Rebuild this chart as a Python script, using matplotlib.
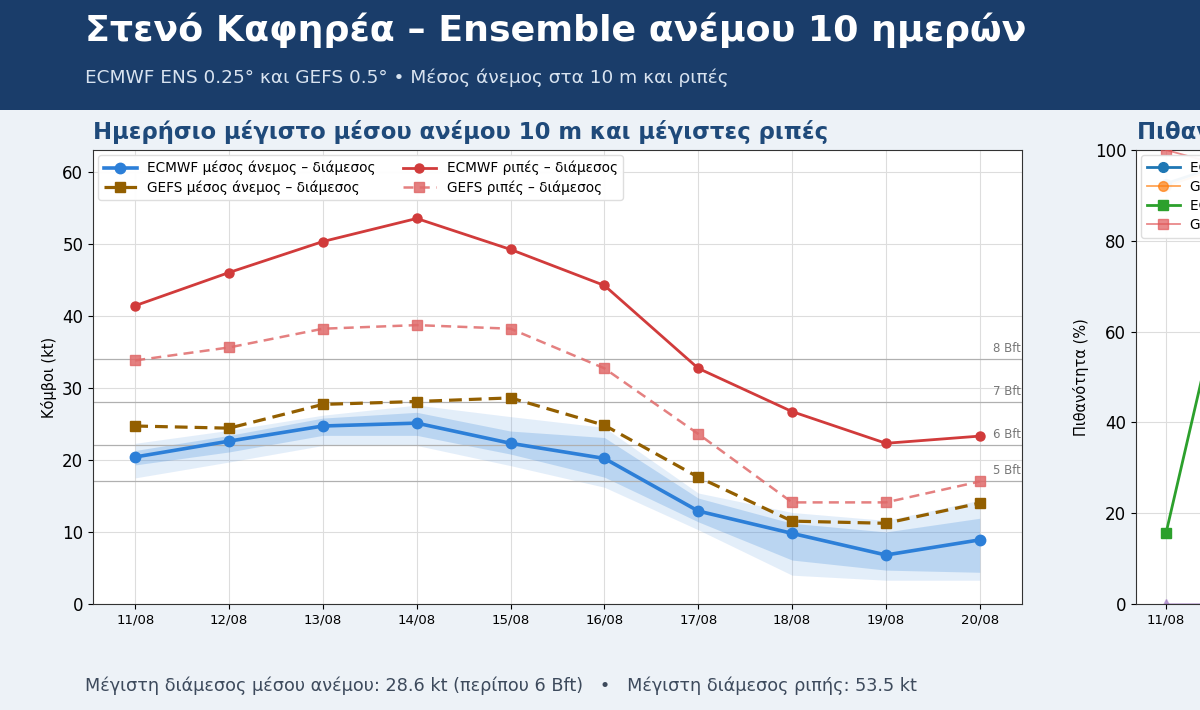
import matplotlib
matplotlib.use("Agg")
import matplotlib.pyplot as plt
from matplotlib.patches import Rectangle
import numpy as np

plt.rcParams['font.family'] = ['DejaVu Sans']

# ---- data ----
dates = ['11/08', '12/08', '13/08', '14/08', '15/08', '16/08', '17/08', '18/08', '19/08', '20/08']

ecmwf_mean = [20.4, 22.6, 24.7, 25.1, 22.3, 20.2, 12.9, 9.8, 6.8, 8.9]
ecmwf_p25 = [19.3, 21.1, 23.4, 23.4, 20.8, 17.6, 11.4, 6.1, 4.7, 4.4]
ecmwf_p75 = [21.3, 23.4, 25.8, 26.6, 24.0, 23.1, 14.7, 11.2, 10.0, 11.9]
ecmwf_p10 = [17.5, 19.7, 22.0, 22.0, 19.2, 16.2, 10.3, 4.0, 3.3, 3.3]
ecmwf_p90 = [22.3, 24.1, 26.2, 27.6, 26.0, 24.5, 15.4, 12.7, 11.6, 14.4]
gefs_mean = [24.7, 24.4, 27.7, 28.1, 28.6, 24.8, 17.6, 11.5, 11.2, 14.0]
ecmwf_gust = [41.4, 46.0, 50.3, 53.5, 49.2, 44.2, 32.7, 26.7, 22.3, 23.3]
gefs_gust = [33.8, 35.6, 38.2, 38.7, 38.2, 32.7, 23.6, 14.1, 14.1, 17.0]

bft_kt = [17, 22, 28, 34]
bft_labels = ['5 Bft', '6 Bft', '7 Bft', '8 Bft']

# right panel (only the first days are visible)
prob_dates = ['11/08', '12/08']
prob_ecmwf_a = [92.6, 97.5]
prob_gefs_a = [92.0, 97.0]
prob_ecmwf_b = [15.6, 79.0]
prob_gefs_b = [100.0, 96.0]
prob_other = [0.0, 0.0]

max_mean = 28.6
max_gust = 53.5

# ---- page ----
W, H = 1200, 710
BG = '#edf2f7'
NAVY = '#1a3d6a'
TITLE_BLUE = '#1f4a7a'

fig = plt.figure(figsize=(W / 100, H / 100), dpi=100, facecolor=BG)

def fx(px):
	return px / W

def fy(py):
	return 1 - py / H

fig.add_artist(Rectangle((0, fy(110)), 1, 110 / H, transform=fig.transFigure,
	facecolor=NAVY, edgecolor='none', zorder=0))
fig.text(fx(85), fy(30), 'Στενό Καφηρέα – Ensemble ανέμου 10 ημερών',
	color='white', fontsize=26.2, fontweight='bold', va='center', ha='left')
fig.text(fx(85), fy(78), 'ECMWF ENS 0.25° και GEFS 0.5° • Μέσος άνεμος στα 10 m και ριπές',
	color='#d8e3f0', fontsize=13.3, va='center', ha='left')

fig.text(fx(93), fy(132), 'Ημερήσιο μέγιστο μέσου ανέμου 10 m και μέγιστες ριπές',
	color=TITLE_BLUE, fontsize=16.4, fontweight='bold', va='center', ha='left')
fig.text(fx(1137), fy(132), 'Πιθανότητα υπέρβασης ορίων ανέμου',
	color=TITLE_BLUE, fontsize=16.4, fontweight='bold', va='center', ha='left')

fig.text(fx(85), fy(686),
	f'Μέγιστη διάμεσος μέσου ανέμου: {max_mean} kt (περίπου 6 Bft)   •   Μέγιστη διάμεσος ριπής: {max_gust} kt',
	color='#3d4a5c', fontsize=12.7, va='center', ha='left')

# ---- left chart ----
ax = fig.add_axes([fx(93), fy(604), (1022 - 93) / W, (604 - 150) / H])
ax.set_facecolor('white')
x = np.arange(len(dates))

ax.fill_between(x, ecmwf_p10, ecmwf_p90, color='#2c7fd8', alpha=0.13, lw=0, zorder=1)
ax.fill_between(x, ecmwf_p25, ecmwf_p75, color='#2c7fd8', alpha=0.22, lw=0, zorder=1)

for kt, lab in zip(bft_kt, bft_labels):
	ax.axhline(kt, color='#b0b0b0', lw=0.9, zorder=1)
	ax.text(9.44, kt + 0.6, lab, ha='right', va='bottom', fontsize=8.5, color='#777777', zorder=2)

ax.plot(x, ecmwf_mean, color='#2c7fd8', lw=2.6, marker='o', ms=7.5,
	label='ECMWF μέσος άνεμος – διάμεσος', zorder=5)
ax.plot(x, gefs_mean, color='#935f00', lw=2.3, ls='--', dashes=(4, 2.2), marker='s', ms=7,
	label='GEFS μέσος άνεμος – διάμεσος', zorder=4)
ax.plot(x, ecmwf_gust, color='#d13b3b', lw=2.0, marker='o', ms=6.5,
	label='ECMWF ριπές – διάμεσος', zorder=4)
ax.plot(x, gefs_gust, color='#e06a6a', lw=1.8, ls='--', dashes=(4, 2.5), marker='s', ms=6.5,
	alpha=0.85, label='GEFS ριπές – διάμεσος', zorder=3)

ax.set_xlim(-0.45, 9.45)
ax.set_ylim(0, 63)
ax.set_xticks(x)
ax.set_xticklabels(dates, fontsize=9.5)
ax.set_yticks(range(0, 61, 10))
ax.tick_params(axis='y', labelsize=12)
ax.set_ylabel('Κόμβοι (kt)', fontsize=10.5)
ax.grid(True, color='#dddddd', lw=0.8, zorder=0)
ax.set_axisbelow(True)
for s in ax.spines.values():
	s.set_color('#333333')
ax.legend(loc='upper left', ncol=2, fontsize=9.8, frameon=True, framealpha=0.95,
	edgecolor='#dddddd', columnspacing=2.0, handlelength=2.4,
	borderaxespad=0.4, labelspacing=0.35)

# ---- right chart (cut off by the page edge) ----
ax2 = fig.add_axes([fx(1136), fy(604), 660 / W, (604 - 150) / H])
ax2.set_facecolor('white')
xp = np.arange(len(prob_dates))
ax2.plot(xp, prob_other, color='#9467bd', lw=1.2, marker='^', ms=7, alpha=0.5, zorder=2)
ax2.plot(xp, prob_gefs_a, color='#ff7f0e', lw=1.3, marker='o', ms=7, alpha=0.7,
	label='GEFS P(≥ 6 Bft)', zorder=3)
ax2.plot(xp, prob_ecmwf_a, color='#1f77b4', lw=2.0, marker='o', ms=7,
	label='ECMWF P(≥ 6 Bft)', zorder=4)
ax2.plot(xp, prob_ecmwf_b, color='#2ca02c', lw=2.0, marker='s', ms=7,
	label='ECMWF P(ριπές ≥ 34 kt)', zorder=4)
ax2.plot(xp, prob_gefs_b, color='#e15759', lw=1.3, marker='s', ms=7, alpha=0.7,
	label='GEFS P(ριπές ≥ 34 kt)', zorder=3)
h, l = ax2.get_legend_handles_labels()
order = [1, 0, 2, 3]
ax2.legend([h[i] for i in order], [l[i] for i in order], loc='upper left', fontsize=9.8,
	framealpha=0.95, edgecolor='#dddddd', handlelength=2.4, labelspacing=0.35,
	borderaxespad=0.4)
ax2.set_xlim(-0.45, 9.45)
ax2.set_ylim(0, 100)
ax2.set_xticks(np.arange(len(dates)))
ax2.set_xticklabels(dates, fontsize=9.5)
ax2.set_yticks(range(0, 101, 20))
ax2.tick_params(axis='y', labelsize=12)
ax2.set_ylabel('Πιθανότητα (%)', fontsize=10.5)
ax2.grid(True, color='#dddddd', lw=0.8)
ax2.set_axisbelow(True)
for s in ax2.spines.values():
	s.set_color('#333333')

fig.savefig('out.png', dpi=100, facecolor=BG)
